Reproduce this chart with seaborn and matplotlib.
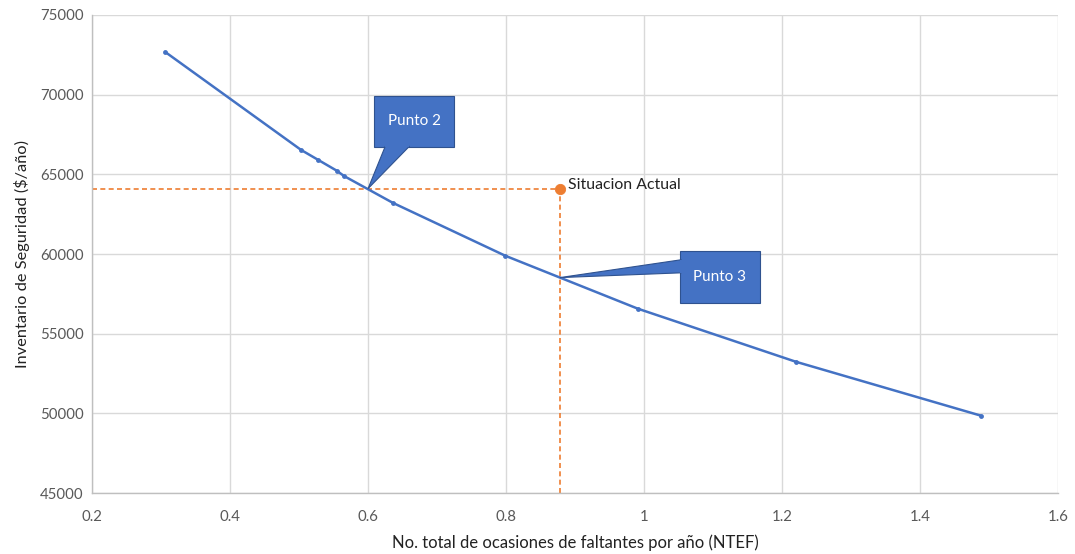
import matplotlib
matplotlib.use("Agg")
import matplotlib.pyplot as plt
from matplotlib.patches import Polygon
import seaborn as sns
import pandas as pd

# curve values (NTEF vs safety stock cost)
ntef = [0.306, 0.503, 0.528, 0.555, 0.565, 0.636, 0.799, 0.991, 1.220, 1.488]
inventario = [72680, 66530, 65900, 65220, 64900, 63210, 59890, 56570, 53240, 49860]

# current situation
actual_x = [0.878]
actual_y = [64100]

# callout targets
punto2 = (0.60, 64100)
punto3 = (0.878, 58520)

blue = "#4472C4"
orange = "#ED7D31"

sns.set_theme(style="whitegrid")
plt.rcParams['font.family'] = ['Lato', 'DejaVu Sans']

df = pd.DataFrame({"x": ntef, "y": inventario})

fig = plt.figure(figsize=(10.75, 5.54), dpi=100)
ax = fig.add_axes([0.0856, 0.110, 0.8986, 0.863])

# dashed guides to the current situation
ax.plot([0.2, actual_x[0]], [actual_y[0], actual_y[0]], ls=(0, (3, 2)), color=orange, lw=1.2, zorder=2)
ax.plot([actual_x[0], actual_x[0]], [45000, actual_y[0]], ls=(0, (3, 2)), color=orange, lw=1.2, zorder=2)

sns.lineplot(data=df, x="x", y="y", ax=ax, color=blue, lw=1.8, marker="o",
             markersize=3.5, markeredgewidth=0, zorder=3)
sns.scatterplot(x=actual_x, y=actual_y, ax=ax, color=orange, s=55, edgecolor=orange, zorder=4)
ax.text(actual_x[0] + 0.012, actual_y[0] + 250, "Situacion Actual", fontsize=11.4,
        color="#222222", va="center", ha="left")

# callout shapes
def callout(box, tail, tip, label):
    x0, x1, y0, y1 = box
    ax.add_patch(Polygon([(x0, y0), (x1, y0), (x1, y1), (x0, y1)], closed=True,
                         facecolor=blue, edgecolor="#2F528F", lw=0.8, zorder=5))
    ax.add_patch(Polygon([tail[0], tip, tail[1]], closed=True,
                         facecolor=blue, edgecolor="#2F528F", lw=0.8, zorder=5))
    ax.add_patch(Polygon([tail[0], tail[1], ((tail[0][0] + tail[1][0]) / 2, (tail[0][1] + tail[1][1]) / 2)],
                         closed=True, facecolor=blue, edgecolor=blue, lw=1.5, zorder=6))
    ax.text((x0 + x1) / 2, (y0 + y1) / 2, label, color="white", fontsize=11,
            ha="center", va="center", zorder=7)

callout((0.609, 0.725, 66720, 69920), [(0.625, 66760), (0.660, 66760)], punto2, "Punto 2")
callout((1.052, 1.168, 56940, 60200), [(1.054, 59640), (1.054, 58820)], punto3, "Punto 3")

ax.set_xlim(0.2, 1.6)
ax.set_ylim(45000, 75000)
ax.set_xticks([0.2, 0.4, 0.6, 0.8, 1.0, 1.2, 1.4, 1.6])
ax.set_xticklabels(["0.2", "0.4", "0.6", "0.8", "1", "1.2", "1.4", "1.6"])
ax.set_yticks(range(45000, 75001, 5000))
ax.tick_params(axis="both", labelsize=10.8, colors="#595959", length=0)
ax.tick_params(axis="x", pad=12)
ax.tick_params(axis="y", pad=6)
ax.grid(True, color="#D9D9D9", lw=1)
for s in ["top", "right"]:
    ax.spines[s].set_visible(False)
for s in ["left", "bottom"]:
    ax.spines[s].set_color("#BFBFBF")
    ax.spines[s].set_linewidth(1)

ax.set_xlabel("No. total de ocasiones de faltantes por año (NTEF)", fontsize=12, color="#222222", labelpad=8)
ax.set_ylabel("Inventario de Seguridad ($/año)", fontsize=11.8, color="#222222", labelpad=7)

fig.savefig("out.png", dpi=100, facecolor="white")
